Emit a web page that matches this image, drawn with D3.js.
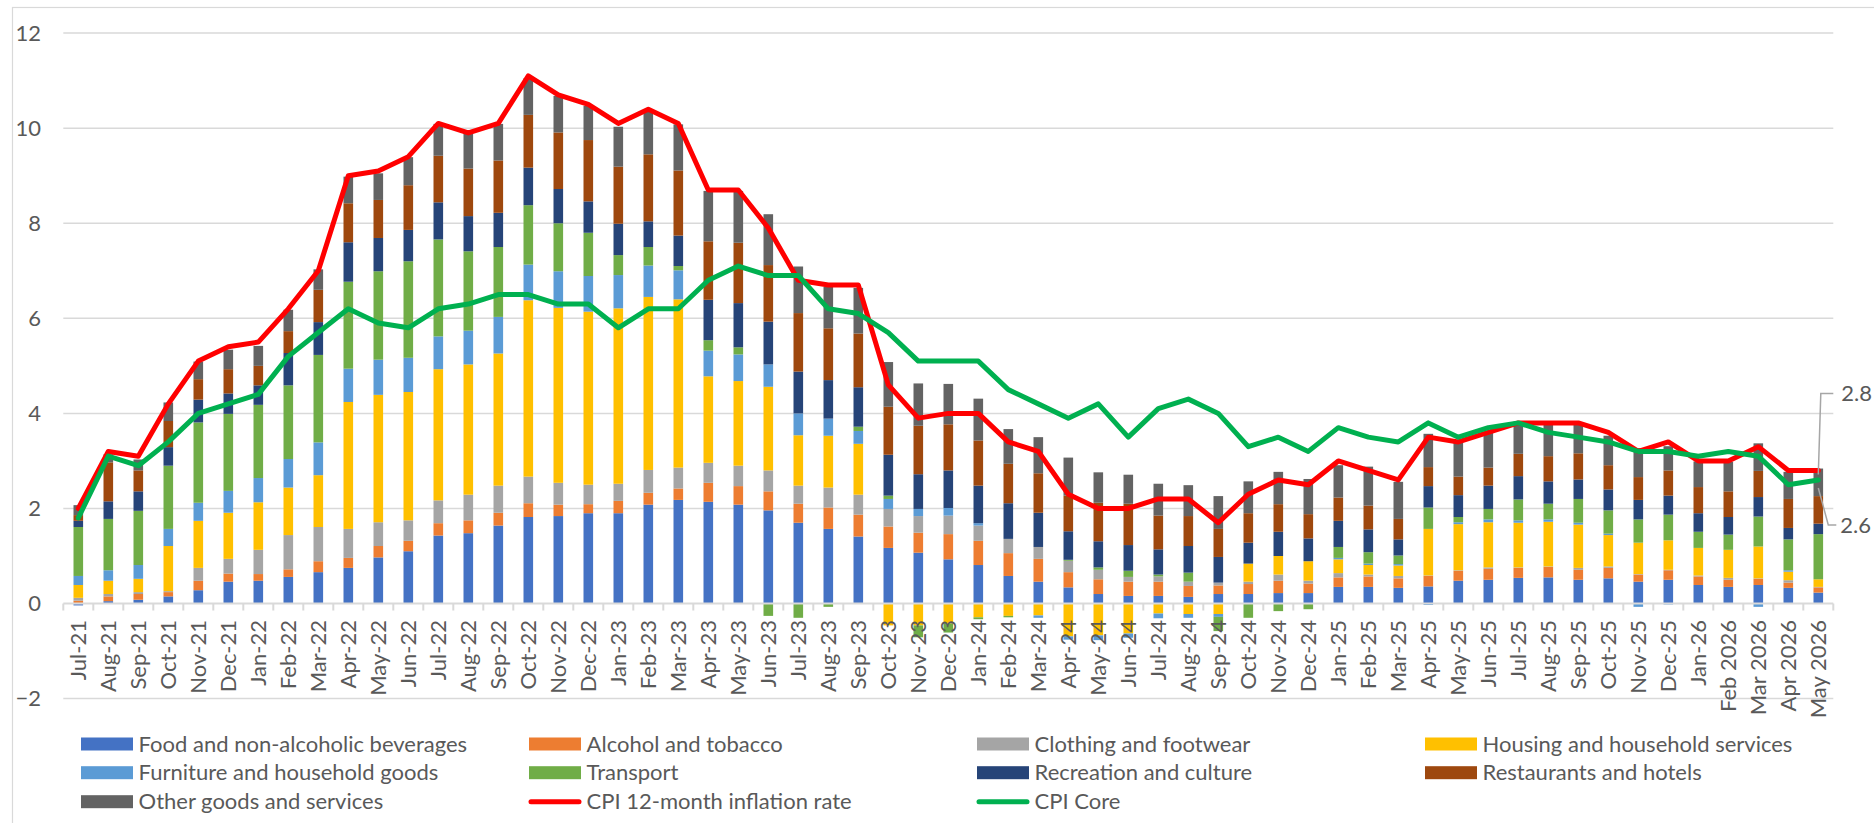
<!DOCTYPE html>
<html><head><meta charset="utf-8">
<script src="https://cdn.jsdelivr.net/npm/d3@7"></script>
<style>
html,body{margin:0;padding:0;background:#fff;overflow:hidden}
svg{display:block}
text{font-family:Lato,"Noto Sans",sans-serif;fill:#595959}
</style></head><body>
<svg id="c" width="1874" height="823"></svg>
<script>
const months = ["Jul-21","Aug-21","Sep-21","Oct-21","Nov-21","Dec-21","Jan-22","Feb-22","Mar-22","Apr-22","May-22","Jun-22","Jul-22","Aug-22","Sep-22","Oct-22","Nov-22","Dec-22","Jan-23","Feb-23","Mar-23","Apr-23","May-23","Jun-23","Jul-23","Aug-23","Sep-23","Oct-23","Nov-23","Dec-23","Jan-24","Feb-24","Mar-24","Apr-24","May-24","Jun-24","Jul-24","Aug-24","Sep-24","Oct-24","Nov-24","Dec-24","Jan-25","Feb-25","Mar-25","Apr-25","May-25","Jun-25","Jul-25","Aug-25","Sep-25","Oct-25","Nov-25","Dec-25","Jan-26","Feb 2026","Mar 2026","Apr 2026","May 2026"];

const food = [-0.04,0.05,0.08,0.15,0.28,0.46,0.48,0.56,0.66,0.75,0.97,1.10,1.43,1.48,1.64,1.82,1.84,1.90,1.90,2.08,2.18,2.14,2.08,1.96,1.70,1.57,1.41,1.17,1.07,0.93,0.81,0.58,0.46,0.34,0.20,0.16,0.16,0.14,0.20,0.20,0.22,0.22,0.35,0.35,0.33,0.36,0.48,0.50,0.54,0.55,0.50,0.53,0.46,0.50,0.39,0.35,0.39,0.33,0.23];
const alcohol = [0.06,0.10,0.12,0.09,0.20,0.17,0.14,0.16,0.23,0.21,0.24,0.22,0.26,0.27,0.27,0.29,0.24,0.19,0.26,0.25,0.24,0.40,0.39,0.40,0.40,0.45,0.46,0.45,0.42,0.53,0.51,0.48,0.48,0.32,0.31,0.30,0.30,0.23,0.18,0.21,0.26,0.20,0.20,0.22,0.20,0.22,0.21,0.23,0.21,0.22,0.21,0.22,0.15,0.20,0.18,0.15,0.13,0.11,0.11];
const clothing = [0.06,0.05,0.04,0.02,0.27,0.31,0.51,0.72,0.72,0.61,0.50,0.43,0.48,0.54,0.57,0.56,0.46,0.41,0.36,0.48,0.44,0.42,0.43,0.44,0.38,0.42,0.42,0.37,0.35,0.39,0.32,0.30,0.25,0.24,0.20,0.10,0.11,0.09,0.06,0.05,0.13,0.06,0.09,0.04,0.05,0.01,0.01,0.03,0.01,0.01,0.04,0.03,0.01,0.01,0.02,0.04,0.01,0.05,0.01];
const housing = [0.27,0.28,0.28,0.95,0.99,0.97,1.00,1.00,1.09,2.67,2.68,2.70,2.76,2.74,2.78,3.71,3.68,3.64,3.69,3.64,3.54,1.82,1.78,1.76,1.06,1.09,1.07,-0.46,-0.46,-0.42,-0.29,-0.26,-0.25,-0.69,-0.67,-0.63,-0.21,-0.22,-0.22,0.38,0.39,0.41,0.29,0.20,0.22,0.98,0.97,0.95,0.94,0.94,0.91,0.66,0.66,0.62,0.58,0.59,0.67,0.18,0.16];
const furniture = [0.19,0.22,0.29,0.36,0.38,0.46,0.51,0.60,0.69,0.70,0.74,0.72,0.69,0.71,0.77,0.75,0.77,0.75,0.70,0.66,0.61,0.54,0.56,0.47,0.46,0.36,0.27,0.21,0.15,0.16,0.05,0.00,-0.05,-0.07,-0.10,-0.09,-0.10,-0.08,-0.06,0.00,0.00,0.00,0.03,0.03,0.03,-0.03,0.04,0.06,0.05,0.05,0.04,0.03,-0.07,-0.02,0.00,0.00,-0.07,0.03,0.00];
const transport = [1.03,1.08,1.14,1.33,1.69,1.62,1.54,1.55,1.84,1.83,1.86,2.03,2.04,1.67,1.47,1.25,1.01,0.91,0.42,0.39,0.09,0.22,0.15,-0.26,-0.30,-0.07,0.09,0.07,-0.25,-0.19,-0.04,-0.03,0.00,0.02,0.05,0.13,0.04,0.19,-0.30,-0.30,-0.16,-0.12,0.23,0.24,0.18,0.45,0.11,0.22,0.44,0.33,0.50,0.49,0.49,0.54,0.34,0.32,0.63,0.65,0.95];
const recreation = [0.13,0.37,0.41,0.39,0.48,0.43,0.41,0.68,0.69,0.83,0.70,0.66,0.78,0.74,0.72,0.79,0.72,0.66,0.66,0.54,0.64,0.85,0.93,0.90,0.88,0.81,0.83,0.86,0.73,0.79,0.79,0.75,0.72,0.60,0.55,0.54,0.53,0.56,0.54,0.44,0.51,0.48,0.55,0.48,0.34,0.45,0.46,0.49,0.49,0.47,0.41,0.44,0.41,0.40,0.39,0.37,0.41,0.24,0.22];
const restaurants = [0.12,0.82,0.44,0.55,0.43,0.51,0.41,0.46,0.68,0.82,0.80,0.94,0.98,1.00,1.10,1.11,1.19,1.29,1.20,1.41,1.37,1.23,1.27,1.19,1.23,1.09,1.13,1.01,1.02,0.97,0.95,0.83,0.83,0.75,0.81,0.87,0.71,0.63,0.59,0.62,0.58,0.51,0.49,0.50,0.43,0.40,0.39,0.38,0.47,0.53,0.55,0.51,0.48,0.53,0.55,0.54,0.55,0.61,0.58];
const other = [0.21,0.17,0.23,0.39,0.37,0.41,0.42,0.45,0.43,0.56,0.56,0.59,0.67,0.76,0.77,0.77,0.77,0.72,0.84,0.89,0.97,1.06,1.09,1.07,0.98,0.87,0.96,0.94,0.89,0.85,0.88,0.73,0.76,0.80,0.64,0.61,0.67,0.65,0.69,0.67,0.68,0.74,0.68,0.82,0.78,0.70,0.73,0.76,0.65,0.67,0.60,0.62,0.61,0.51,0.54,0.62,0.58,0.57,0.58];
const cpi = [2.0,3.2,3.1,4.2,5.1,5.4,5.5,6.2,7.0,9.0,9.1,9.4,10.1,9.9,10.1,11.1,10.7,10.5,10.1,10.4,10.1,8.7,8.7,7.9,6.8,6.7,6.7,4.6,3.9,4.0,4.0,3.4,3.2,2.3,2.0,2.0,2.2,2.2,1.7,2.3,2.6,2.5,3.0,2.8,2.6,3.5,3.4,3.6,3.8,3.8,3.8,3.6,3.2,3.4,3.0,3.0,3.3,2.8,2.8];
const core = [1.8,3.1,2.9,3.4,4.0,4.2,4.4,5.2,5.7,6.2,5.9,5.8,6.2,6.3,6.5,6.5,6.3,6.3,5.8,6.2,6.2,6.8,7.1,6.9,6.9,6.2,6.1,5.7,5.1,5.1,5.1,4.5,4.2,3.9,4.2,3.5,4.1,4.3,4.0,3.3,3.5,3.2,3.7,3.5,3.4,3.8,3.5,3.7,3.8,3.6,3.5,3.4,3.2,3.2,3.1,3.2,3.1,2.5,2.6];
const yTicks = [-2,0,2,4,6,8,10,12];

const seriesNames = ["Food and non-alcoholic beverages","Alcohol and tobacco","Clothing and footwear","Housing and household services","Furniture and household goods","Transport","Recreation and culture","Restaurants and hotels","Other goods and services"];
const seriesData = [food,alcohol,clothing,housing,furniture,transport,recreation,restaurants,other];
const seriesColors = ["#4472c4","#ed7d31","#a5a5a5","#ffc000","#5b9bd5","#70ad47","#264478","#9e480e","#636363"];
const lineNames = ["CPI 12-month inflation rate","CPI Core"];
const lineColors = ["#ff0000","#00b050"];

const svg = d3.select("#c");
const W = 1874, H = 823;
const plotL = 63.3, plotR = 1833.3;

svg.append("rect").attr("x",12.5).attr("y",7.5).attr("width",W).attr("height",H)
  .attr("fill","none").attr("stroke","#d9d9d9").attr("stroke-width",1.2);

const x = d3.scaleBand().domain(months).range([plotL, plotR]).paddingInner(0.68).paddingOuter(0.34);
const y = d3.scaleLinear().domain([-2,12]).range([698.6, 33.1]);
const cx = m => x(m) + x.bandwidth()/2;

// gridlines
svg.append("g").selectAll("line").data(yTicks.filter(t=>t!==0)).join("line")
  .attr("x1",plotL).attr("x2",plotR).attr("y1",d=>y(d)).attr("y2",d=>y(d))
  .attr("stroke","#d9d9d9").attr("stroke-width",1.5);

// y axis labels
const yAxis = d3.axisLeft(y).tickValues(yTicks).tickSize(0).tickPadding(0);
const ya = svg.append("g").attr("transform","translate(41,0)").call(yAxis);
ya.select(".domain").remove();
ya.selectAll("text").attr("font-size",22).attr("fill","#595959").attr("font-family","Lato,sans-serif");

// stacked bars
const rows = months.map((m,i)=>{const r={month:m}; seriesNames.forEach((n,k)=>r[n]=seriesData[k][i]); return r;});
const stack = d3.stack().keys(seriesNames).offset(d3.stackOffsetDiverging)(rows);
svg.append("g").selectAll("g").data(stack).join("g").attr("fill",(d,i)=>seriesColors[i])
  .selectAll("rect").data(d=>d).join("rect")
  .attr("x",d=>x(d.data.month)).attr("width",x.bandwidth())
  .attr("y",d=>y(Math.max(d[0],d[1]))).attr("height",d=>Math.abs(y(d[0])-y(d[1])));

// x axis (zero line + ticks)
const xAxisG = svg.append("g").attr("transform",`translate(0,${y(0)})`);
xAxisG.append("line").attr("x1",plotL).attr("x2",plotR).attr("stroke","#d9d9d9").attr("stroke-width",2);
const bounds = months.map(m=>x(m)-x.step()*x.paddingInner()/2).concat([plotR]);
bounds[0] = plotL;
xAxisG.selectAll("line.tk").data(bounds).join("line").attr("class","tk")
  .attr("x1",d=>d).attr("x2",d=>d).attr("y1",0).attr("y2",7).attr("stroke","#d9d9d9").attr("stroke-width",2);
svg.append("g").selectAll("text").data(months).join("text")
  .attr("transform",d=>`translate(${cx(d)},620) rotate(-90)`)
  .attr("text-anchor","end").attr("dy","0.35em").attr("font-size",22).text(d=>d);

// lines
const lineGen = d3.line().x((d,i)=>cx(months[i])).y(d=>y(d));
[cpi,core].forEach((arr,k)=>{
  svg.append("path").attr("d",lineGen(arr)).attr("fill","none").attr("stroke",lineColors[k])
    .attr("stroke-width",5).attr("stroke-linejoin","round").attr("stroke-linecap","round");
});

// end labels with leader lines
const last = months.length-1, lx = cx(months[last]);
const lab = svg.append("g");
lab.append("path").attr("d",`M${lx},${y(cpi[last])+4} L${lx+2.5},${y(cpi[last])-77} L${lx+15},${y(cpi[last])-77}`)
  .attr("fill","none").attr("stroke","#a6a6a6").attr("stroke-width",1.5);
lab.append("text").attr("x",lx+23).attr("y",y(cpi[last])-77).attr("dy","0.35em").attr("font-size",22).text(cpi[last].toFixed(1));
lab.append("path").attr("d",`M${lx},${y(core[last])+8} L${lx+10},${y(core[last])+45} L${lx+18},${y(core[last])+45}`)
  .attr("fill","none").attr("stroke","#a6a6a6").attr("stroke-width",1.5);
lab.append("text").attr("x",lx+22).attr("y",y(core[last])+45).attr("dy","0.35em").attr("font-size",22).text(core[last].toFixed(1));

// legend
const colX = [81,529,977,1425], rowY = [744,772.7,801.7];
const items = seriesNames.map((n,i)=>({name:n,color:seriesColors[i],type:"bar"}))
  .concat(lineNames.map((n,i)=>({name:n,color:lineColors[i],type:"line"})));
const lg = svg.append("g");
items.forEach((it,i)=>{
  const cxl = colX[i%4], cyl = rowY[Math.floor(i/4)];
  if(it.type==="bar") lg.append("rect").attr("x",cxl).attr("y",cyl-6.5).attr("width",52).attr("height",13).attr("fill",it.color);
  else lg.append("line").attr("x1",cxl+2).attr("x2",cxl+50).attr("y1",cyl).attr("y2",cyl).attr("stroke",it.color).attr("stroke-width",5).attr("stroke-linecap","round");
  lg.append("text").attr("x",cxl+57.6).attr("y",cyl).attr("dy","0.35em").attr("font-size",22).text(it.name);
});
</script>
</body></html>
